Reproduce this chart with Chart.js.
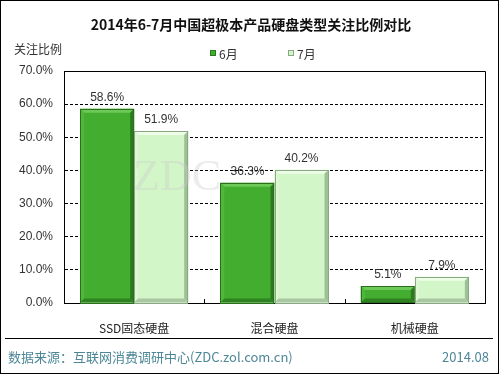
<!DOCTYPE html>
<html>
<head>
<meta charset="utf-8">
<script src="https://cdn.jsdelivr.net/npm/chart.js@4"></script>
<style>
  html, body { margin: 0; padding: 0; background: #fff; }
  #wrap { width: 500px; height: 375px; position: relative; }
</style>
</head>
<body>
<div id="wrap"><canvas id="hddChart" width="500" height="375"></canvas></div>
<script>
// data
const categories = ['SSD固态硬盘', '混合硬盘', '机械硬盘'];
const june = [58.6, 36.3, 5.1];
const july = [51.9, 40.2, 7.9];
const seriesNames = ['6月', '7月'];
const yTicks = [0, 10, 20, 30, 40, 50, 60, 70];

const CJK = '"Noto Sans CJK SC", "DejaVu Sans", sans-serif';
const LAT = '"Liberation Sans", "DejaVu Sans", sans-serif';

const darkGreen = '#43ad2f';
const lightGreen = '#d3f6c9';
// bevel edge colours per series: top, left, right, bottom
const bevel = [
    ['#6cc957', '#4fb83a', '#2b7a1e', '#2f8221'],
    ['#eefde8', '#dcf8d3', '#9fbf97', '#a9c7a1']
];

// page frame, title, legend, labels and footer
const decor = {
    id: 'decor',
    beforeDraw(chart) {
        const ctx = chart.ctx;
        ctx.save();
        ctx.fillStyle = '#fff';
        ctx.fillRect(0, 0, 500, 375);
        ctx.restore();
    },
    afterDatasetsDraw(chart) {
        const ctx = chart.ctx;
        const a = chart.chartArea;
        ctx.save();
        // bevelled edges on each bar
        chart.data.datasets.forEach((ds, di) => {
            const c = bevel[di];
            chart.getDatasetMeta(di).data.forEach(bar => {
                const l = bar.x - bar.width / 2, r = bar.x + bar.width / 2;
                const t = bar.y, b = bar.base;
                const e = Math.min(4, (b - t) / 2);
                const quad = (pts, col) => {
                    ctx.fillStyle = col;
                    ctx.beginPath();
                    ctx.moveTo(pts[0][0], pts[0][1]);
                    pts.slice(1).forEach(p => ctx.lineTo(p[0], p[1]));
                    ctx.closePath();
                    ctx.fill();
                };
                quad([[l, t], [r, t], [r - e, t + e], [l + e, t + e]], c[0]);
                quad([[l, t], [l + e, t + e], [l + e, b - e], [l, b]], c[1]);
                quad([[r, t], [r, b], [r - e, b - e], [r - e, t + e]], c[2]);
                quad([[l, b], [l + e, b - e], [r - e, b - e], [r, b]], c[3]);
                ctx.strokeStyle = di === 0 ? '#2a6f1c' : '#8aa884';
                ctx.lineWidth = 1;
                ctx.strokeRect(Math.round(l) + 0.5, Math.round(t) + 0.5, Math.round(r - l) - 1, Math.round(b - t));
            });
        });
        // faint watermark
        ctx.fillStyle = 'rgba(200,200,200,0.35)';
        ctx.font = '44px "Liberation Serif", serif';
        ctx.textBaseline = 'middle';
        ctx.textAlign = 'left';
        ctx.fillText('ZDC', 133, 178);
        // plot frame: top + right
        ctx.strokeStyle = '#000';
        ctx.lineWidth = 1;
        ctx.beginPath();
        ctx.moveTo(Math.round(a.left) + 0.5, Math.round(a.top) + 0.5);
        ctx.lineTo(Math.round(a.right) + 0.5, Math.round(a.top) + 0.5);
        ctx.lineTo(Math.round(a.right) + 0.5, Math.round(a.bottom) + 0.5);
        ctx.stroke();
        // category separators on the base line
        const step = (a.right - a.left) / categories.length;
        for (let i = 1; i < categories.length; i++) {
            const x = Math.round(a.left + step * i) + 0.5;
            ctx.beginPath();
            ctx.moveTo(x, a.bottom);
            ctx.lineTo(x, a.bottom - 4);
            ctx.stroke();
        }
        // value labels
        ctx.fillStyle = '#333';
        ctx.font = '12px ' + LAT;
        ctx.textAlign = 'center';
        ctx.textBaseline = 'bottom';
        chart.data.datasets.forEach((ds, di) => {
            chart.getDatasetMeta(di).data.forEach((bar, i) => {
                ctx.fillText(ds.data[i].toFixed(1) + '%', bar.x, bar.y - 5);
            });
        });
        ctx.restore();
    },
    afterDraw(chart) {
        const ctx = chart.ctx;
        ctx.save();
        // outer border
        ctx.strokeStyle = '#000';
        ctx.lineWidth = 1;
        ctx.strokeRect(0.5, 0.5, 498, 373);
        // title
        ctx.fillStyle = '#111';
        ctx.textAlign = 'center';
        ctx.textBaseline = 'middle';
        ctx.font = 'bold 14px ' + CJK;
        ctx.fillText('2014年6-7月中国超极本产品硬盘类型关注比例对比', 251, 25);
        // y axis title
        ctx.font = '12px ' + CJK;
        ctx.fillStyle = '#333';
        ctx.textAlign = 'left';
        ctx.fillText('关注比例', 14, 49);
        // legend
        const leg = [[210, darkGreen, '#2a7a1c'], [288, lightGreen, '#8aa884']];
        leg.forEach(([x, fill, edge], i) => {
            ctx.fillStyle = fill;
            ctx.fillRect(x, 50, 6, 6);
            ctx.strokeStyle = edge;
            ctx.strokeRect(x + 0.5, 50.5, 5, 5);
            ctx.fillStyle = '#333';
            ctx.fillText(seriesNames[i], x + 9, 54);
        });
        // footer
        ctx.strokeStyle = '#000';
        ctx.beginPath();
        ctx.moveTo(5, 338.5);
        ctx.lineTo(493, 338.5);
        ctx.stroke();
        ctx.fillStyle = '#4d8797';
        ctx.font = '13px ' + CJK;
        ctx.textAlign = 'left';
        ctx.fillText('数据来源：互联网消费调研中心(ZDC.zol.com.cn)', 8, 357);
        ctx.textAlign = 'right';
        ctx.fillText('2014.08', 489, 357);
        ctx.restore();
    }
};

new Chart(document.getElementById('hddChart'), {
    type: 'bar',
    data: {
        labels: categories,
        datasets: [
            {
                label: seriesNames[0],
                data: june,
                backgroundColor: darkGreen,
                borderWidth: 0,
                categoryPercentage: 0.77,
                barPercentage: 1.0
            },
            {
                label: seriesNames[1],
                data: july,
                backgroundColor: lightGreen,
                borderWidth: 0,
                categoryPercentage: 0.77,
                barPercentage: 1.0
            }
        ]
    },
    options: {
        responsive: false,
        animation: false,
        devicePixelRatio: 1,
        layout: { padding: { top: 71, left: 0, right: 15, bottom: 0 } },
        plugins: {
            legend: { display: false },
            title: { display: false },
            tooltip: { enabled: false }
        },
        scales: {
            x: {
                grid: { display: false },
                border: { display: true, color: '#000', width: 1 },
                ticks: { color: '#222', font: { size: 12, family: CJK }, padding: 10 },
                afterFit: s => { s.height = 72; }
            },
            y: {
                min: 0,
                max: 70,
                afterBuildTicks: s => { s.ticks = yTicks.map(v => ({ value: v })); },
                grid: {
                    color: ctx => (ctx.tick && (ctx.tick.value === 0 || ctx.tick.value === 70)) ? 'rgba(0,0,0,0)' : '#000',
                    drawTicks: false,
                    lineWidth: 1
                },
                border: { display: true, color: '#000', dash: [3, 2] },
                ticks: {
                    color: '#333',
                    font: { size: 12, family: LAT },
                    padding: 11,
                    callback: v => v.toFixed(1) + '%'
                },
                afterFit: s => { s.width = 64; }
            }
        }
    },
    plugins: [decor]
});
</script>
</body>
</html>
